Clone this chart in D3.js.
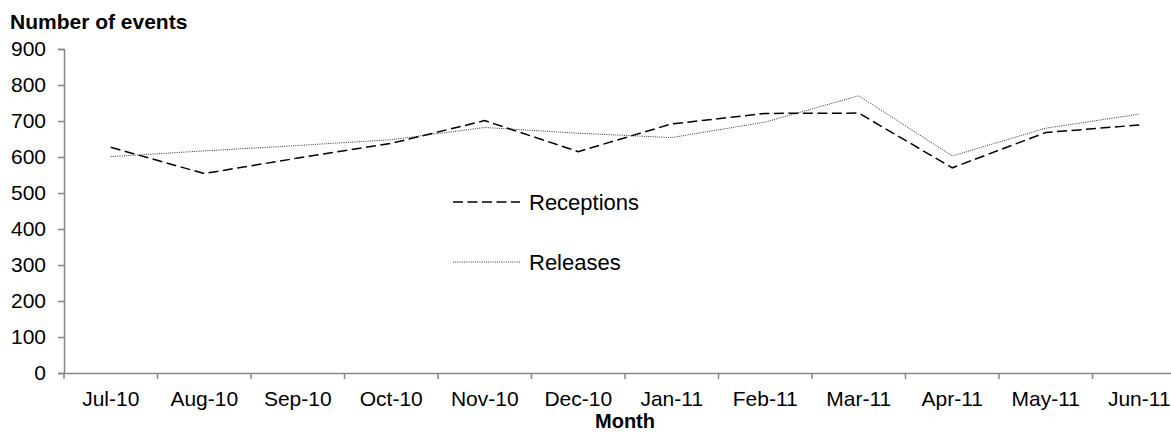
<!DOCTYPE html>
<html><head><meta charset="utf-8">
<script src="https://cdn.jsdelivr.net/npm/d3@7"></script>
<style>
body{margin:0;background:#fff;}
svg{display:block;}
text{font-family:"Liberation Sans",Arial,sans-serif;fill:#000;}
</style></head>
<body>
<script>
const months = ["Jul-10","Aug-10","Sep-10","Oct-10","Nov-10","Dec-10","Jan-11","Feb-11","Mar-11","Apr-11","May-11","Jun-11"];
const receptions = [627,554,597,638,701,615,692,721,722,570,668,689];
const releases = [601,617,632,648,682,666,654,697,770,603,680,719];
const yTicks = [0,100,200,300,400,500,600,700,800,900];
const seriesNames = ["Receptions","Releases"];

const W=1171,H=433;
const svg=d3.select("body").append("svg").attr("width",W).attr("height",H);
const left=64, step=93.5;
const x=d3.scaleBand().domain(months).range([left,left+step*months.length]).paddingInner(0).paddingOuter(0);
const y=d3.scaleLinear().domain([0,900]).range([373,49]);
const axisColor="#868686";
const ff="Liberation Sans, Arial, sans-serif";

// y axis
const ya=svg.append("g").attr("transform",`translate(${left},0)`)
  .call(d3.axisLeft(y).tickValues(yTicks).tickSize(6).tickPadding(12).tickFormat(d3.format("d")));
ya.select(".domain").attr("stroke",axisColor).attr("stroke-width",1.5);
ya.selectAll(".tick line").attr("stroke",axisColor).attr("stroke-width",1.5);
ya.selectAll(".tick text").attr("font-size",21).attr("font-family",ff).attr("fill","#000");

// x axis
const xa=svg.append("g").attr("transform",`translate(0,${y(0)})`)
  .call(d3.axisBottom(x).tickSize(0).tickPadding(18));
xa.select(".domain").attr("stroke",axisColor).attr("stroke-width",1.5);
xa.selectAll(".tick text").attr("font-size",21).attr("font-family",ff).attr("fill","#000");
// boundary tick marks
xa.selectAll(".bt").data(months).enter().append("line").attr("class","bt")
  .attr("x1",d=>x(d)).attr("x2",d=>x(d)).attr("y1",0).attr("y2",6)
  .attr("stroke",axisColor).attr("stroke-width",1.5);

const line=d3.line().x((d,i)=>x(months[i])+x.bandwidth()/2).y(d=>y(d));
svg.append("path").datum(releases).attr("d",line).attr("fill","none")
  .attr("stroke","#333").attr("stroke-width",1).attr("stroke-dasharray","1,1.2");
svg.append("path").datum(receptions).attr("d",line).attr("fill","none")
  .attr("stroke","#000").attr("stroke-width",1.5).attr("stroke-dasharray","10,4.5");

// legend
const lg=svg.append("g");
const styles=[{s:"#000",w:1.5,d:"10,4.5"},{s:"#333",w:1,d:"1,1.2"}];
seriesNames.forEach((n,i)=>{
  const yy=202+i*60;
  lg.append("line").attr("x1",453).attr("x2",520).attr("y1",yy).attr("y2",yy)
    .attr("stroke",styles[i].s).attr("stroke-width",styles[i].w).attr("stroke-dasharray",styles[i].d);
  lg.append("text").attr("x",529).attr("y",yy).attr("dy","0.36em").attr("font-size",22).text(n);
});

svg.append("text").attr("x",10).attr("y",29).attr("font-size",21).attr("font-weight","bold").text("Number of events");
svg.append("text").attr("x",left+step*6).attr("y",428).attr("text-anchor","middle").attr("font-size",20).attr("font-weight","bold").text("Month");
</script>
</body></html>
